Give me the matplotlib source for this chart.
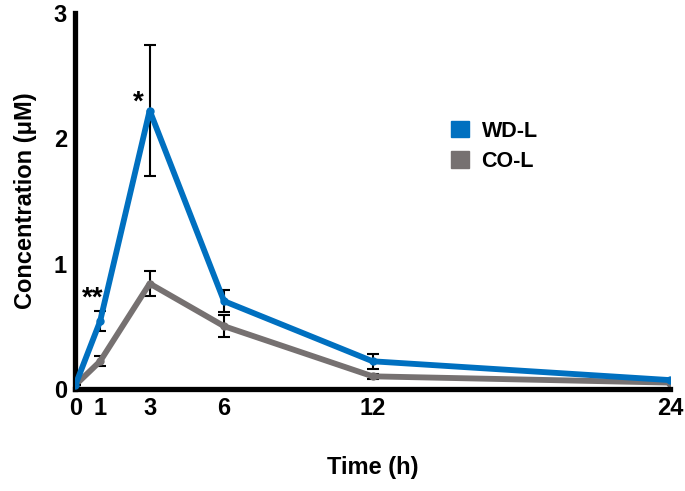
import matplotlib
matplotlib.use("Agg")
import matplotlib.pyplot as plt
from matplotlib.patches import Patch

plt.rcParams['font.family'] = ['Liberation Sans', 'DejaVu Sans']
plt.rcParams['font.weight'] = 'bold'

time_h = [0, 1, 3, 6, 12, 24]
wd_l = [0.03, 0.54, 2.22, 0.70, 0.22, 0.07]
wd_l_err = [0.0, 0.08, 0.52, 0.09, 0.06, 0.0]
co_l = [0.03, 0.22, 0.84, 0.50, 0.10, 0.05]
co_l_err = [0.0, 0.04, 0.10, 0.09, 0.02, 0.0]
xticks = [0, 1, 3, 6, 12, 24]
yticks = [0, 1, 2, 3]

fig = plt.figure(figsize=(6.85, 4.91), dpi=100)
ax = fig.add_axes([0.110, 0.208, 0.868, 0.766])

ax.errorbar(time_h, co_l, yerr=co_l_err, color='#767171', lw=4.2, marker='o', ms=5,
            ecolor='black', elinewidth=1.5, capsize=4, capthick=1.5, label='CO-L', zorder=2)
ax.errorbar(time_h, wd_l, yerr=wd_l_err, color='#0070C0', lw=4.2, marker='o', ms=5,
            ecolor='black', elinewidth=1.5, capsize=4, capthick=1.5, label='WD-L', zorder=3)

ax.text(2.55, 2.28, '*', fontsize=20, ha='center', va='center')
ax.text(0.7, 0.72, '**', fontsize=20, ha='center', va='center')

ax.set_xlim(0, 24)
ax.set_ylim(0, 3)
ax.set_xticks(xticks)
ax.set_yticks(yticks)
ax.tick_params(length=0, labelsize=17, pad=6)
for s in ['top', 'right']:
    ax.spines[s].set_visible(False)
for s in ['left', 'bottom']:
    ax.spines[s].set_linewidth(3.8)

ax.set_xlabel('Time (h)', fontsize=17, fontweight='bold', labelpad=26)
ax.set_ylabel('Concentration (μM)', fontsize=17, fontweight='bold', labelpad=12)

handles = [Patch(color='#0070C0', label='WD-L'), Patch(color='#767171', label='CO-L')]
ax.legend(handles=handles, loc='upper left', bbox_to_anchor=(0.6, 0.765), frameon=False,
          fontsize=15.5, handlelength=0.8, handleheight=0.8, handletextpad=0.6, labelspacing=0.45)

fig.savefig('out.png', dpi=100)
